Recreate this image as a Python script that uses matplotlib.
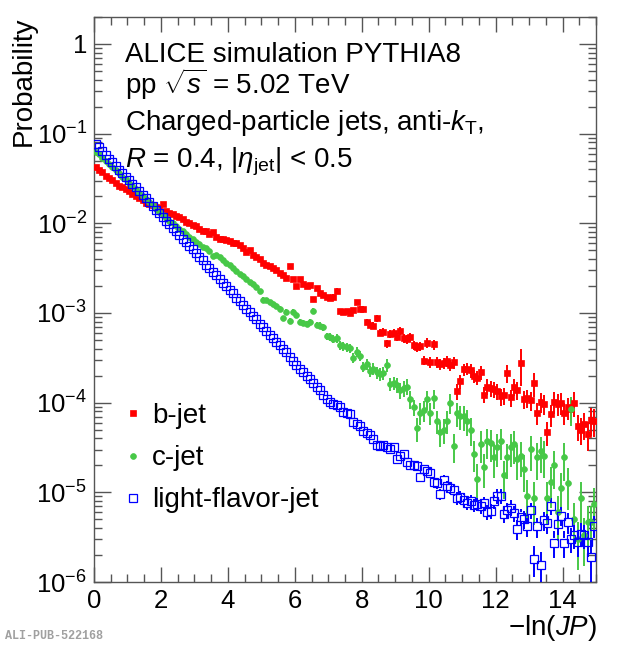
import numpy as np
import matplotlib
matplotlib.use("Agg")
import matplotlib.pyplot as plt
from matplotlib.ticker import MultipleLocator, LogLocator, NullFormatter, FuncFormatter
from matplotlib.lines import Line2D

plt.rcParams['font.family'] = ['Liberation Sans', 'DejaVu Sans']
plt.rcParams['mathtext.fontset'] = 'custom'
plt.rcParams['mathtext.rm'] = 'Liberation Sans'
plt.rcParams['mathtext.it'] = 'Liberation Sans:italic'
plt.rcParams['mathtext.bf'] = 'Liberation Sans:bold'

# ---- data: bin centres of -ln(JP) (bin width 0.1) ----
x_edges_lo = 0.0
bin_width = 0.1
n_bins = 150
x = x_edges_lo + bin_width * (np.arange(n_bins) + 0.5)

# log10(probability)
log_b = [
    -1.37, -1.41, -1.43, -1.47, -1.50, -1.52, -1.55, -1.58, -1.60, -1.62,
    -1.64, -1.67, -1.69, -1.72, -1.74, -1.77, -1.79, -1.80, -1.82, -1.83,
    -1.79, -1.86, -1.88, -1.90, -1.92, -1.93, -1.95, -1.99, -2.00, -2.02,
    -2.03, -2.06, -2.08, -2.09, -2.12, -2.10, -2.15, -2.17, -2.18, -2.19,
    -2.20, -2.22, -2.22, -2.24, -2.27, -2.32, -2.30, -2.35, -2.38, -2.40,
    -2.44, -2.46, -2.48, -2.50, -2.52, -2.55, -2.58, -2.61, -2.48, -2.62,
    -2.70, -2.62, -2.68, -2.70, -2.69, -2.84, -2.72, -2.78, -2.80, -2.82,
    -2.83, -2.82, -2.75, -2.98, -2.99, -2.98, -3.00, -2.97, -2.88, -2.95,
    -2.95, -3.10, -3.13, -3.14, -3.06, -3.22, -3.21, -3.34, -3.23, -3.22,
    -3.27, -3.20, -3.28, -3.29, -3.27, -3.36, -3.38, -3.37, -3.53, -3.33,
    -3.55, -3.35, -3.55, -3.57, -3.56, -3.54, -3.58, -3.55, -3.87, -3.76,
    -3.63, -3.62, -3.64, -3.70, -3.72, -3.66, -3.91, -3.82, -3.84, -3.85,
    -3.87, -3.93, -3.92, -3.67, -3.94, -3.82, -3.86, -3.56, -3.96, -3.95,
    -3.97, -3.78, -4.11, -3.99, -4.01, -4.33, -4.13, -3.99, -4.01, -4.00,
    -4.11, -4.05, -4.07, -4.00, -4.26, -4.30, -4.24, -4.35, -4.19, -4.20,
]
log_c = [
    -1.20, -1.23, -1.27, -1.30, -1.34, -1.37, -1.41, -1.44, -1.48, -1.51,
    -1.55, -1.58, -1.62, -1.66, -1.69, -1.73, -1.76, -1.80, -1.84, -1.87,
    -1.91, -1.94, -1.97, -2.00, -2.03, -2.06, -2.09, -2.12, -2.15, -2.18,
    -2.21, -2.23, -2.26, -2.28, -2.31, -2.36, -2.35, -2.38, -2.41, -2.44,
    -2.47, -2.50, -2.53, -2.56, -2.59, -2.62, -2.65, -2.68, -2.71, -2.75,
    -2.85, -2.86, -2.88, -2.90, -2.92, -2.95, -3.06, -2.99, -3.09, -2.99,
    -3.02, -3.10, -3.11, -3.12, -3.10, -2.98, -3.13, -3.14, -3.16, -3.26,
    -3.27, -3.29, -3.28, -3.36, -3.37, -3.38, -3.39, -3.50, -3.43, -3.48,
    -3.60, -3.57, -3.65, -3.62, -3.66, -3.68, -3.67, -3.58, -3.79, -3.78,
    -3.80, -3.86, -3.84, -3.82, -3.96, -4.05, -4.28, -4.11, -4.08, -3.96,
    -4.11, -3.95, -4.20, -4.33, -4.30, -4.20, -4.00, -4.48, -4.12, -4.15,
    -4.15, -4.20, -4.30, -4.57, -4.85, -4.46, -4.72, -4.43, -4.45, -4.61,
    -4.50, -4.43, -4.81, -4.61, -4.50, -4.46, -4.63, -4.59, -4.74, -5.04,
    -4.52, -5.06, -4.61, -4.54, -4.59, -5.06, -4.89, -4.70, -5.22, -4.95,
    -4.61, -4.90, -4.07, -5.30, -5.52, -5.06, -5.48, -5.33, -5.33, -5.13,
]
log_l = [
    -1.11, -1.15, -1.19, -1.24, -1.28, -1.32, -1.36, -1.40, -1.44, -1.48,
    -1.52, -1.56, -1.60, -1.64, -1.68, -1.72, -1.76, -1.81, -1.85, -1.89,
    -1.93, -1.97, -2.01, -2.05, -2.09, -2.13, -2.17, -2.21, -2.25, -2.29,
    -2.33, -2.37, -2.41, -2.46, -2.50, -2.54, -2.58, -2.62, -2.66, -2.70,
    -2.74, -2.78, -2.83, -2.87, -2.91, -2.95, -2.99, -3.03, -3.07, -3.12,
    -3.16, -3.20, -3.24, -3.28, -3.32, -3.36, -3.40, -3.44, -3.49, -3.54,
    -3.58, -3.62, -3.66, -3.70, -3.74, -3.78, -3.82, -3.86, -3.91, -3.96,
    -3.99, -4.01, -4.03, -4.05, -4.10, -4.12, -4.13, -4.22, -4.24, -4.26,
    -4.32, -4.34, -4.36, -4.40, -4.47, -4.48, -4.47, -4.50, -4.52, -4.50,
    -4.63, -4.60, -4.57, -4.66, -4.70, -4.69, -4.71, -4.83, -4.74, -4.76,
    -4.78, -4.89, -4.90, -5.02, -4.86, -4.93, -4.95, -4.97, -5.06, -5.05,
    -5.08, -5.12, -5.10, -5.14, -5.13, -5.15, -5.12, -5.22, -5.21, -5.10,
    -5.04, -5.04, -5.24, -5.20, -5.17, -5.23, -5.41, -5.27, -5.30, -5.38,
    -5.20, -5.74, -5.38, -5.81, -5.31, -5.34, -5.15, -5.56, -5.35, -5.26,
    -5.56, -5.33, -5.52, -5.48, -5.55, -5.46, -5.48, -5.55, -5.72, -5.37,
]

# relative statistical uncertainties (percent)
err_b = [
    1, 1, 1, 1, 1, 1, 1, 1, 1, 1,
    1, 1, 1, 1, 1, 1, 1, 1, 1, 1,
    2, 2, 2, 2, 2, 2, 2, 2, 2, 2,
    2, 2, 2, 2, 2, 2, 2, 2, 2, 2,
    3, 3, 3, 3, 3, 3, 3, 3, 3, 3,
    4, 4, 4, 4, 4, 4, 4, 4, 4, 4,
    5, 5, 5, 5, 5, 5, 5, 5, 5, 5,
    7, 7, 7, 7, 7, 7, 7, 7, 7, 7,
    8, 8, 9, 9, 9, 9, 9, 10, 10, 10,
    10, 10, 11, 11, 11, 12, 12, 12, 12, 12,
    14, 13, 14, 14, 14, 14, 15, 15, 20, 18,
    16, 16, 17, 17, 18, 18, 20, 20, 20, 20,
    21, 21, 21, 22, 22, 22, 22, 45, 23, 23,
    24, 30, 27, 26, 26, 30, 28, 27, 27, 27,
    28, 28, 30, 30, 32, 33, 33, 35, 34, 34,
]
err_c = [
    1, 1, 1, 1, 1, 1, 1, 1, 1, 1,
    2, 2, 2, 2, 2, 2, 2, 2, 2, 2,
    3, 3, 3, 3, 3, 3, 3, 3, 3, 3,
    4, 4, 4, 4, 4, 4, 4, 4, 4, 4,
    5, 5, 5, 5, 5, 5, 5, 5, 5, 5,
    6, 6, 6, 6, 6, 6, 7, 7, 7, 7,
    8, 8, 8, 8, 8, 8, 8, 9, 9, 9,
    10, 10, 11, 11, 11, 12, 12, 13, 13, 13,
    13, 14, 14, 15, 15, 16, 16, 17, 17, 17,
    19, 21, 21, 20, 23, 21, 30, 27, 26, 24,
    27, 24, 29, 31, 31, 29, 26, 36, 30, 30,
    31, 32, 34, 38, 45, 38, 42, 37, 38, 41,
    40, 38, 46, 42, 40, 40, 42, 42, 45, 50,
    42, 50, 44, 43, 44, 50, 48, 45, 52, 48,
    45, 50, 35, 52, 55, 50, 55, 52, 52, 50,
]
err_l = [
    1, 1, 1, 1, 1, 1, 1, 1, 1, 1,
    1, 1, 1, 1, 1, 1, 1, 1, 1, 1,
    1, 1, 1, 1, 1, 1, 1, 1, 1, 1,
    1, 1, 1, 1, 1, 1, 1, 1, 1, 1,
    2, 2, 2, 2, 2, 2, 2, 2, 2, 2,
    2, 2, 2, 2, 2, 2, 3, 3, 3, 3,
    3, 3, 3, 3, 3, 4, 4, 4, 4, 4,
    5, 5, 5, 5, 6, 6, 6, 6, 6, 6,
    7, 7, 7, 8, 8, 8, 8, 8, 8, 8,
    10, 9, 9, 10, 10, 10, 10, 12, 11, 11,
    12, 13, 13, 15, 13, 14, 14, 14, 16, 16,
    17, 17, 17, 17, 17, 18, 17, 19, 19, 17,
    18, 18, 21, 20, 20, 21, 25, 22, 22, 24,
    21, 38, 25, 40, 24, 25, 22, 33, 25, 24,
    33, 27, 31, 30, 32, 30, 30, 32, 55, 28,
]

series = [
    dict(name='b-jet', logp=log_b, err=err_b, color='#ff0000', marker='s', ms=3.8, open=False),
    dict(name='c-jet', logp=log_c, err=err_c, color='#47c847', marker='o', ms=4.2, open=False),
    dict(name='light-flavor-jet', logp=log_l, err=err_l, color='#0000ff', marker='s', ms=5.4, open=True),
]

W, H = 620, 649
fig = plt.figure(figsize=(W / 100, H / 100), dpi=100)
L, R, T, B = 94, 596, 17, 582
ax = fig.add_axes([L / W, 1 - B / H, (R - L) / W, (B - T) / H])
ax.set_yscale('log')
ax.set_xlim(0, 15)
ax.set_ylim(1e-6, 2)

decade_px = (B - T) / np.log10(2 / 1e-6)

for s in series:
    p = 10 ** np.asarray(s['logp'])
    rel = np.asarray(s['err']) / 100.0
    up = p * (1 + rel)
    lo = np.maximum(p * (1 - rel), 1e-9)
    if s['open']:
        half = 10 ** ((s['ms'] * 100 / 72 / 2 + 0.3) / decade_px)
        top0 = p * half
        bot0 = p / half
        m1 = up > top0
        ax.vlines(x[m1], top0[m1], up[m1], color=s['color'], lw=1.4, zorder=3)
        m2 = lo < bot0
        ax.vlines(x[m2], lo[m2], bot0[m2], color=s['color'], lw=1.4, zorder=3)
        ax.plot(x, p, ls='none', marker=s['marker'], ms=s['ms'], mfc='none',
                mec=s['color'], mew=0.9, zorder=4)
    else:
        ax.vlines(x, lo, up, color=s['color'], lw=1.4, zorder=3)
        ax.plot(x, p, ls='none', marker=s['marker'], ms=s['ms'], mfc=s['color'],
                mec=s['color'], mew=0.5, zorder=4)

# axes styling (ROOT-like)
axis_col = '#555555'
for sp in ax.spines.values():
    sp.set_color(axis_col)
    sp.set_linewidth(1.0)
ax.xaxis.set_major_locator(MultipleLocator(2))
ax.xaxis.set_minor_locator(MultipleLocator(0.5))
ax.yaxis.set_major_locator(LogLocator(base=10, numticks=20))
ax.yaxis.set_minor_locator(LogLocator(base=10, subs=np.arange(2, 10), numticks=20))
ax.yaxis.set_minor_formatter(NullFormatter())


def yfmt(v, pos):
    e = int(round(np.log10(v)))
    if e == 0:
        return '1'
    return r'$\mathrm{10^{%d}}$' % e


ax.yaxis.set_major_formatter(FuncFormatter(yfmt))
ax.tick_params(which='both', direction='in', top=True, right=True, color=axis_col, width=1.0)
ax.tick_params(axis='y', which='major', length=12, labelsize=18.5, pad=5)
ax.tick_params(axis='y', which='minor', length=5.8)
ax.tick_params(axis='x', which='major', length=11, labelsize=18.5, pad=5)
ax.tick_params(axis='x', which='minor', length=5.8)

# header text
tx = 125 / W
fs = 20
fig.text(tx, 1 - 62 / H, 'ALICE simulation PYTHIA8', fontsize=fs, va='baseline', ha='left')
fig.text(tx, 1 - 94 / H, r'pp $\sqrt{s}$ = 5.02 TeV', fontsize=fs, va='baseline', ha='left')
fig.text(tx, 1 - 130 / H, r'Charged-particle jets, anti-$k_{\mathrm{T}}$,', fontsize=fs,
         va='baseline', ha='left')
fig.text(tx, 1 - 167 / H, r'$R$ = 0.4, |$\eta_{\mathrm{jet}}$| < 0.5', fontsize=fs,
         va='baseline', ha='left')

# legend (drawn manually, ROOT style)
leg_rows = [(413, 423), (456, 465), (498, 507)]
for s, (ym, yb) in zip(series, leg_rows):
    if s['open']:
        fig.add_artist(Line2D([133 / W], [1 - ym / H], ls='none', marker=s['marker'],
                              ms=s['ms'] * 0.95, mfc='none', mec=s['color'], mew=0.9))
    else:
        fig.add_artist(Line2D([133 / W], [1 - ym / H], ls='none', marker=s['marker'],
                              ms=s['ms'], mfc=s['color'], mec=s['color'], mew=0.5))
    fig.text(152 / W, 1 - yb / H, s['name'], fontsize=fs, va='baseline', ha='left')

# axis titles
fig.text(24 / W, 1 - 17 / H, 'Probability', rotation=90, fontsize=fs, ha='center', va='top')
fig.text(597 / W, 1 - 635 / H, '\u2212ln($JP$)', fontsize=fs, ha='right', va='baseline')

fig.text(5 / W, 1 - 636 / H, 'ALI-PUB-522168', family='Liberation Mono', weight='bold',
         fontsize=8.5, color='#a0a0a0', va='center', ha='left')

fig.savefig('out.png', dpi=100)
